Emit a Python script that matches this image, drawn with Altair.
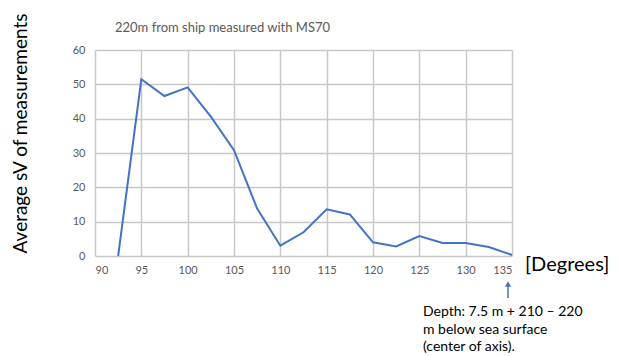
import altair as alt
import pandas as pd

degrees = [92.5, 95, 97.5, 100, 102.5, 105, 107.5, 110, 112.5, 115, 117.5, 120, 122.5, 125, 127.5, 130, 132.5, 135]
sv = [0, 51.5, 46.6, 49.1, 40.6, 30.8, 13.8, 3.0, 6.9, 13.6, 12.1, 4.0, 2.8, 5.8, 3.8, 3.8, 2.6, 0.3]

title_text = "220m from ship measured with MS70"
y_title = "Average sV of measurements"
x_unit = "[Degrees]"
note_lines = ["Depth: 7.5 m + 210 \u2013 220", "m below sea surface", "(center of axis)."]

FONT = "Lato"
df = pd.DataFrame({"deg": degrees, "sv": sv})

line = alt.Chart(df).mark_line(color="#4472C4", strokeWidth=2).encode(
    x=alt.X("deg:Q", scale=alt.Scale(domain=[90, 135], nice=False, zero=False),
            axis=alt.Axis(values=list(range(90, 136, 5)), title=None, domain=False, ticks=False,
                          gridColor="#c8c8c8", gridWidth=1.5, labelColor="#595959",
                          labelFontSize=11, labelPadding=8, labelFont=FONT)),
    y=alt.Y("sv:Q", scale=alt.Scale(domain=[0, 60], nice=False),
            axis=alt.Axis(values=list(range(0, 61, 10)), title=y_title, domain=False, ticks=False,
                          gridColor="#c8c8c8", gridWidth=1.5, labelColor="#595959",
                          labelFontSize=11, labelPadding=10, labelFont=FONT,
                          titleFontSize=19, titleFont=FONT, titleFontWeight="normal",
                          titleColor="#000000", titleX=-75, titleY=83,
                          titleBaseline="middle", titleAngle=270)),
)

title = alt.Chart(pd.DataFrame({"t": [title_text]})).mark_text(
    align="left", baseline="middle", fontSize=13, font=FONT, color="#595959"
).encode(x=alt.value(20), y=alt.value(-22), text="t:N")

xunit = alt.Chart(pd.DataFrame({"t": [x_unit]})).mark_text(
    align="left", baseline="middle", fontSize=20, font=FONT, color="#000000"
).encode(x=alt.value(430), y=alt.value(215), text="t:N")

notes = alt.Chart(pd.DataFrame({"t": note_lines, "i": [0, 1, 2]})).mark_text(
    align="left", baseline="middle", fontSize=14, font=FONT, color="#000000"
).encode(x=alt.value(328), y=alt.Y("i:Q", scale=alt.Scale(domain=[0, 2], range=[262, 297]), axis=None), text="t:N")

arrow_line = alt.Chart(pd.DataFrame({"a": [0]})).mark_rule(color="#4472C4", strokeWidth=1.5).encode(
    x=alt.value(413), y=alt.value(236), y2=alt.value(248))
arrow_head = alt.Chart(pd.DataFrame({"a": [0]})).mark_point(
    shape="triangle-up", filled=True, color="#4472C4", size=40, opacity=1).encode(
    x=alt.value(413), y=alt.value(234))

chart = alt.layer(line, title, xunit, notes, arrow_line, arrow_head).resolve_scale(y="independent").properties(
    width=417, height=206,
    autosize=alt.AutoSizeParams(type="none"),
    padding={"left": 87, "top": 42, "right": 99, "bottom": 110},
).configure_view(stroke=None)

chart.save("out.html", embed_options={"renderer": "svg", "actions": False})
